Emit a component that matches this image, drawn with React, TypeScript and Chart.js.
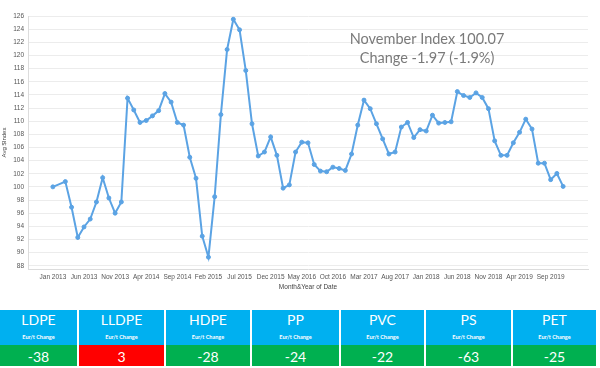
import React, { useEffect, useRef } from 'react';
import { Chart, registerables } from 'chart.js';

Chart.register(...registerables);

// ---------- data ----------
const xTickLabels = [
  'Jan 2013', 'Jun 2013', 'Nov 2013', 'Apr 2014', 'Sep 2014', 'Feb 2015', 'Jul 2015',
  'Dec 2015', 'May 2016', 'Oct 2016', 'Mar 2017', 'Aug 2017', 'Jan 2018', 'Jun 2018',
  'Nov 2018', 'Apr 2019', 'Sep 2019',
];
const xTickStepMonths = 5;

// monthly index, Jan 2013 .. Nov 2019 (Feb 2013 missing)
const indexValues: (number | null)[] = [
  100.0, null, 100.8, 96.9, 92.3, 93.9, 95.1, 97.7, 101.4, 98.3, 96.0, 97.7,
  113.5, 111.7, 109.8, 110.1, 110.8, 111.6, 114.2, 112.9, 109.8, 109.4, 104.5, 101.3,
  92.5, 89.3, 98.5, 111.0, 120.9, 125.5, 123.9, 117.7, 109.6, 104.7, 105.3, 107.6,
  104.8, 99.8, 100.3, 105.3, 106.8, 106.7, 103.4, 102.4, 102.3, 103.0, 102.8, 102.5,
  105.0, 109.4, 113.2, 111.9, 109.6, 107.3, 105.0, 105.3, 109.1, 109.8, 107.5, 108.7,
  108.5, 110.9, 109.7, 109.8, 109.9, 114.5, 113.9, 113.6, 114.3, 113.6, 111.9, 107.0,
  104.8, 104.8, 106.7, 108.3, 110.3, 108.8, 103.6, 103.6, 101.1, 102.04, 100.07,
];

const yTickValues = [88, 90, 92, 94, 96, 98, 100, 102, 104, 106, 108, 110, 112, 114, 116, 118, 120, 122, 124, 126];

const headlineLines = ['November Index 100.07', 'Change -1.97 (-1.9%)'];

const products = ['LDPE', 'LLDPE', 'HDPE', 'PP', 'PVC', 'PS', 'PET'];
const changes = [-38, 3, -28, -24, -22, -63, -25];
const changeSubtitle = 'Eur/t Change';

// ---------- layout ----------
const cellLefts = [0, 79, 166, 252, 341, 426, 513];
const cellWidths = [77, 85, 84, 87, 83, 85, 83];

const BLUE = '#00b0f0';
const GREEN = '#00b050';
const RED = '#ff0000';
const LINE = '#5ba3e4';
const TICK_FONT = { family: '"Liberation Sans", Arial, sans-serif', size: 6.5 };

const headlinePlugin = {
  id: 'headline',
  afterDraw(chart: any) {
    const ctx = chart.ctx;
    ctx.save();
    ctx.font = '14.5px Lato, "Open Sans", sans-serif';
    ctx.fillStyle = '#7a7a7a';
    ctx.textAlign = 'center';
    ctx.textBaseline = 'middle';
    ctx.fillText(headlineLines[0], 427, 39);
    ctx.fillText(headlineLines[1], 427, 58.5);
    ctx.restore();
  },
};

function IndexChart() {
  const ref = useRef<HTMLCanvasElement | null>(null);
  useEffect(() => {
    if (!ref.current) return;
    const chart = new Chart(ref.current, {
      type: 'line',
      data: {
        datasets: [
          {
            data: indexValues.map((v, i) => ({ x: i, y: v })) as any,
            borderColor: LINE,
            backgroundColor: LINE,
            borderWidth: 2,
            pointRadius: 2,
            pointBorderWidth: 1,
            tension: 0,
            spanGaps: true,
          },
        ],
      },
      options: {
        animation: false,
        responsive: false,
        maintainAspectRatio: false,
        layout: { padding: { top: 16, right: 12, left: 0, bottom: 0 } },
        plugins: { legend: { display: false }, tooltip: { enabled: false } },
        scales: {
          x: {
            type: 'linear',
            min: -4,
            max: 86,
            afterBuildTicks: (s: any) => {
              s.ticks = xTickLabels.map((_, k) => ({ value: k * xTickStepMonths }));
            },
            afterFit: (s: any) => {
              s.height = 31;
            },
            ticks: {
              autoSkip: false,
              maxRotation: 0,
              font: TICK_FONT,
              color: '#555',
              padding: 4,
              callback: (_v: any, idx: number) => xTickLabels[idx],
            },
            grid: { display: false, drawTicks: false },
            border: { color: '#dcdcdc' },
            title: {
              display: true,
              text: 'Month&Year of Date',
              font: TICK_FONT,
              color: '#444',
              padding: { top: 0, bottom: 9 },
            },
          },
          y: {
            min: 87.5,
            max: 126,
            afterBuildTicks: (s: any) => {
              s.ticks = yTickValues.map((v) => ({ value: v }));
            },
            afterFit: (s: any) => {
              s.width = 28;
            },
            ticks: { font: TICK_FONT, color: '#555', padding: 4 },
            grid: { color: '#ececec', drawTicks: false },
            border: { color: '#dcdcdc' },
            title: {
              display: true,
              text: 'Avg $Index',
              font: { ...TICK_FONT, size: 6 },
              color: '#444',
              padding: { top: 1, bottom: 0 },
            },
          },
        },
      } as any,
      plugins: [headlinePlugin],
    });
    return () => chart.destroy();
  }, []);
  return <canvas ref={ref} width={600} height={300} style={{ display: 'block', width: 600, height: 300 }} />;
}

export default function App() {
  return (
    <div
      style={{
        position: 'absolute',
        left: 0,
        top: 0,
        width: 600,
        height: 368,
        background: '#fff',
        overflow: 'hidden',
        fontFamily: 'Lato, "Open Sans", sans-serif',
      }}
    >
      <IndexChart />
      {products.map((p, i) => (
        <div
          key={p}
          style={{ position: 'absolute', left: cellLefts[i], top: 310, width: cellWidths[i], height: 56, color: '#fff', textAlign: 'center' }}
        >
          <div style={{ height: 35, background: BLUE, position: 'relative' }}>
            <div style={{ position: 'absolute', left: 0, right: 0, top: 2, fontSize: 14, lineHeight: '16px' }}>{p}</div>
            <div style={{ position: 'absolute', left: 0, right: 0, top: 24, fontSize: 5.5, lineHeight: '6px', fontWeight: 700 }}>
              {changeSubtitle}
            </div>
          </div>
          <div style={{ height: 21, background: changes[i] > 0 ? RED : GREEN, fontSize: 14, lineHeight: '23px' }}>
            {changes[i]}
          </div>
        </div>
      ))}
    </div>
  );
}
